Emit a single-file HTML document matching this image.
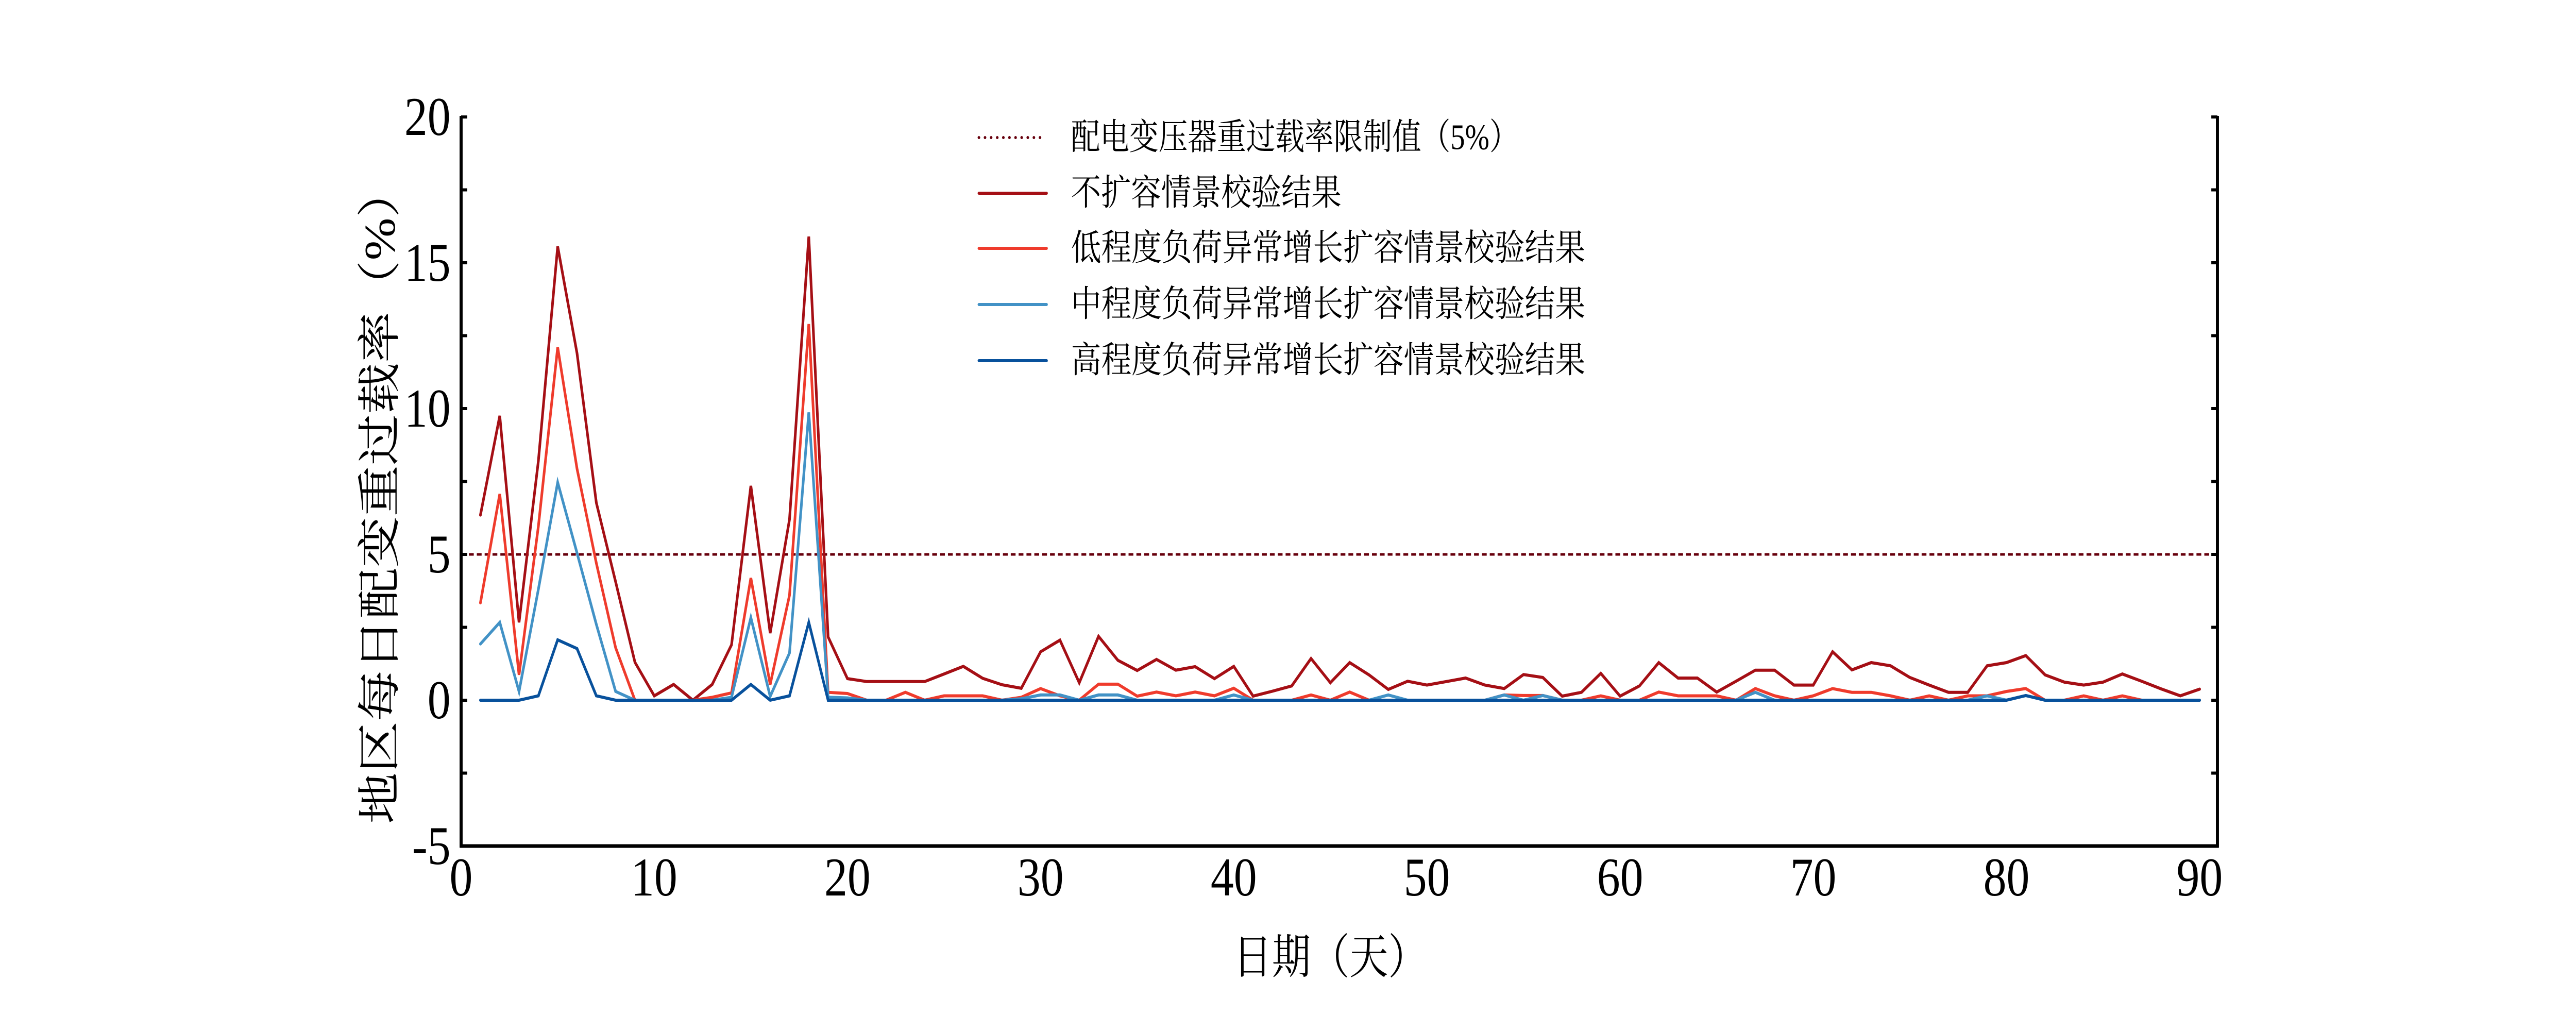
<!DOCTYPE html>
<html><head><meta charset="utf-8"><style>
html,body{margin:0;padding:0;background:#fff;width:100%;height:100%;overflow:hidden;}
svg{display:block;width:100vw;height:100vh;}
</style></head><body>
<svg id="chart" xmlns="http://www.w3.org/2000/svg" viewBox="0 0 5905 1968" preserveAspectRatio="none">
<rect x="0" y="0" width="5905" height="1968" fill="#fff"/>
<g id="plot"></g>
<g id="axes"></g>
<text x="0" y="0" transform="translate(872,961) rotate(-90)" text-anchor="middle" dominant-baseline="central" font-family="'Liberation Serif','Noto Serif CJK SC',serif" font-size="100" textLength="1276" lengthAdjust="spacingAndGlyphs" fill="#000">地区每日配变重过载率（%）</text>
<text x="3049" y="1859" text-anchor="middle" dominant-baseline="central" font-family="'Liberation Serif','Noto Serif CJK SC',serif" font-size="92" textLength="444" lengthAdjust="spacingAndGlyphs" fill="#000">日期（天）</text>
<g id="legend"></g>
</svg>
<script>
const days = Array.from({length:90},(_,i)=>i+1);
const limitValue = 5;
const noExpand = [6.35,9.75,2.67,8.2,15.56,11.9,6.77,4.06,1.3,0.15,0.54,0,0.54,1.9,7.35,2.3,6.2,15.9,2.17,0.74,
0.64,0.64,0.64,0.64,0.9,1.16,0.75,0.53,0.41,1.66,2.06,0.6,2.19,1.37,1.02,1.4,1.03,1.15,0.74,1.16,
0.14,0.31,0.49,1.43,0.6,1.29,0.87,0.37,0.65,0.52,0.64,0.76,0.52,0.4,0.88,0.78,0.14,0.27,0.92,0.14,
0.49,1.29,0.76,0.76,0.28,0.65,1.03,1.03,0.52,0.52,1.66,1.04,1.29,1.18,0.78,0.52,0.27,0.27,1.18,1.29,
1.53,0.87,0.62,0.52,0.62,0.9,0.65,0.39,0.15,0.38];
const lowGrowth = [3.34,7.07,0.87,5.96,12.1,7.94,4.7,1.8,0,0,0,0,0.1,0.25,4.19,0.54,3.6,12.9,0.27,0.23,
0,0,0.27,0,0.15,0.15,0.15,0,0.1,0.4,0.15,0,0.55,0.55,0.14,0.28,0.15,0.28,0.15,0.41,
0,0,0,0.18,0,0.28,0,0,0,0,0,0,0,0.18,0.16,0.16,0,0,0.15,0,
0,0.28,0.15,0.15,0.15,0,0.4,0.15,0,0.15,0.4,0.27,0.27,0.15,0,0.15,0,0.15,0.15,0.3,
0.4,0,0,0.15,0,0.15,0,0,0,0];
const midGrowth = [1.93,2.67,0.3,3.8,7.47,5.05,2.6,0.3,0,0,0,0,0,0.1,2.83,0.13,1.62,9.87,0.1,0.08,
0,0,0,0,0,0,0,0,0.05,0.18,0.18,0,0.18,0.18,0,0,0,0,0,0.18,
0,0,0,0,0,0,0,0.18,0,0,0,0,0,0.18,0,0.16,0,0,0,0,
0,0,0,0,0,0,0.27,0,0,0,0,0,0,0,0,0,0,0,0.15,0,
0.16,0,0,0,0,0,0,0,0,0];
const highGrowth = [0,0,0,0.15,2.07,1.77,0.15,0,0,0,0,0,0,0,0.54,0,0.15,2.67,0,0,
0,0,0,0,0,0,0,0,0,0,0,0,0,0,0,0,0,0,0,0,
0,0,0,0,0,0,0,0,0,0,0,0,0,0,0,0,0,0,0,0,
0,0,0,0,0,0,0,0,0,0,0,0,0,0,0,0,0,0,0,0,
0.16,0,0,0,0,0,0,0,0,0];
const xTicks = [0,10,20,30,40,50,60,70,80,90];
const yTicks = [-5,0,5,10,15,20];
const yMinorTicks = [-5,-2.5,0,2.5,5,7.5,10,12.5,15,17.5,20];
const seriesNames = ["配电变压器重过载率限制值（5%）","不扩容情景校验结果","低程度负荷异常增长扩容情景校验结果","中程度负荷异常增长扩容情景校验结果","高程度负荷异常增长扩容情景校验结果"];

const NS="http://www.w3.org/2000/svg";
const X0=1057, XPD=44.28, Y0=1359, YPU=56.6;
function xs(d){return X0+d*XPD;}
function ys(v){return Y0-v*YPU;}
function mk(tag,attrs,parent){const e=document.createElementNS(NS,tag);for(const k in attrs)e.setAttribute(k,attrs[k]);parent.appendChild(e);return e;}
const plot=document.getElementById('plot'), axes=document.getElementById('axes'), legend=document.getElementById('legend');

const lim=mk('line',{x1:xs(0),x2:xs(91),y1:ys(limitValue),y2:ys(limitValue),stroke:'#67000d','stroke-width':5,'stroke-dasharray':'11 7'},plot);



const series=[
 {data:noExpand,color:'#a50f15',name:'series-no-expansion'},
 {data:lowGrowth,color:'#ef3b2c',name:'series-low-growth'},
 {data:midGrowth,color:'#4292c6',name:'series-mid-growth'},
 {data:highGrowth,color:'#08519c',name:'series-high-growth'}
];
series.forEach(s=>{
  const pts=s.data.map((v,i)=>xs(days[i]).toFixed(1)+','+ys(v).toFixed(1)).join(' ');
  const pl=mk('polyline',{points:pts,fill:'none',stroke:s.color,'stroke-width':6,'stroke-linejoin':'miter','stroke-linecap':'round'},plot);
  
  
});

const sp1=mk('line',{x1:1057,y1:225,x2:1057,y2:1645,stroke:'#000','stroke-width':7},axes);


const sp2=mk('line',{x1:5083,y1:225,x2:5083,y2:1645,stroke:'#000','stroke-width':7},axes);


const sp3=mk('line',{x1:1054,y1:1642,x2:5086,y2:1642,stroke:'#000','stroke-width':7},axes);



yMinorTicks.forEach(v=>{
  const t1=mk('line',{x1:1057,x2:1071,y1:ys(v),y2:ys(v),stroke:'#000','stroke-width':6},axes);
  
  
  const t2=mk('line',{x1:5069,x2:5083,y1:ys(v),y2:ys(v),stroke:'#000','stroke-width':6},axes);
  
  
});
yTicks.forEach(v=>{
  const t=mk('text',{x:1033,y:ys(v),'text-anchor':'end','dominant-baseline':'central','font-family':"'Liberation Serif',serif",'font-size':106,fill:'#000'},axes);
  t.textContent=String(v);
  
  
});
xTicks.forEach(v=>{
  const t=mk('text',{x:xs(v),y:1703,'text-anchor':'middle','dominant-baseline':'central','font-family':"'Liberation Serif',serif",'font-size':106,fill:'#000'},axes);
  t.textContent=String(v);
  
  
});

const legColors=['#67000d','#a50f15','#ef3b2c','#4292c6','#08519c'];
const legRowY=[267,375,482,591,700];
const legLens=[1026,620,1179,1179,1179];
seriesNames.forEach((n,i)=>{
  const y=legRowY[i];
  let ln;
  if(i===0){
    ln=mk('line',{x1:2244,x2:2388,y1:y,y2:y,stroke:legColors[i],'stroke-width':6,'stroke-linecap':'round','stroke-dasharray':'0 14'},legend);
  } else {
    ln=mk('line',{x1:2244,x2:2399,y1:y,y2:y,stroke:legColors[i],'stroke-width':6,'stroke-linecap':'round'},legend);
  }
  
  
  const t=mk('text',{x:2455,y:y,'dominant-baseline':'central','font-family':"'Liberation Serif','Noto Serif CJK SC',serif",'font-size':70,fill:'#000',textLength:legLens[i],lengthAdjust:'spacingAndGlyphs'},legend);
  t.textContent=n;
  
  
});
</script>
</body></html>
